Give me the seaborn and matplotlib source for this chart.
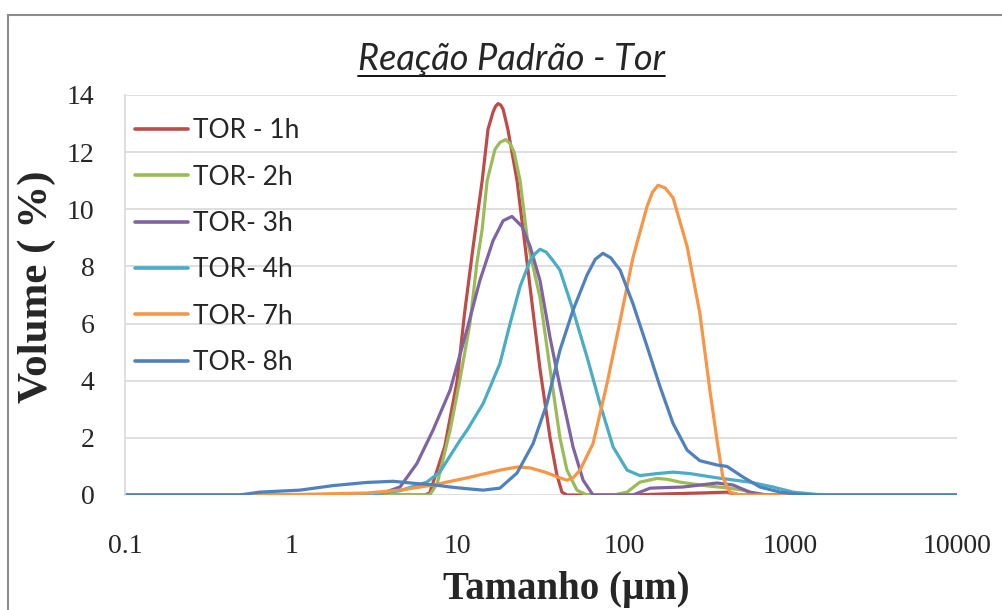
import numpy as np
import pandas as pd
import matplotlib
matplotlib.use("Agg")
import matplotlib.pyplot as plt
import seaborn as sns
from matplotlib.lines import Line2D
from matplotlib.patches import Rectangle

# particle size (um) and volume (%), one pair per run
size_1h = [0.1, 6.32, 6.78, 8.35, 9.91, 11.00, 12.37, 14.01, 15.19, 16.28, 16.85, 17.46, 18.1,
           18.73, 19.99, 22.70, 25.39, 28.35, 31.21, 35.85, 39.41, 42.26, 45.29, 112.8,
           181.2, 284.9, 415.0, 497.0, 10000]
vol_1h = [0, 0, 0.07, 1.7, 4.0, 6.4, 8.7, 11.0, 12.8, 13.4, 13.6, 13.7, 13.65,
          13.5, 12.8, 11.0, 8.7, 6.4, 4.4, 2.0, 0.7, 0.1, 0, 0,
          0.04, 0.07, 0.1, 0, 0]

size_2h = [0.1, 6.78, 7.52, 8.99, 10.27, 11.83, 13.01, 14.01, 15.01, 16.73, 18.0, 19.45, 20.6,
           21.79, 23.68, 26.38, 31.21, 35.85, 41.11, 45.29, 52.00, 59.79, 85.81, 104.1,
           124.1, 157.9, 181.2, 216.5, 314.0, 415.0, 517.2, 654.3, 10000]
vol_2h = [0, 0, 0.4, 2.27, 4.0, 6.0, 8.1, 9.3, 11.0, 12.1, 12.35, 12.44, 12.3,
          12.0, 11.0, 8.8, 6.9, 4.4, 2.0, 0.87, 0.17, 0, 0, 0.1,
          0.45, 0.58, 0.55, 0.45, 0.32, 0.25, 0.17, 0, 0]

size_3h = [0.1, 2.849, 3.551, 4.495, 5.675, 7.099, 8.990, 11.37, 13.56, 16.28, 18.73, 21.16,
           24.30, 27.19, 31.21, 35.85, 41.11, 49.27, 56.62, 64.96, 112.8, 143.2, 225.9,
           361.6, 450.6, 569.4, 721.4, 10000]
vol_3h = [0, 0, 0.07, 0.28, 1.1, 2.27, 3.67, 5.8, 7.5, 8.9, 9.6, 9.75,
          9.4, 8.7, 7.5, 5.5, 3.8, 1.68, 0.52, 0, 0, 0.24, 0.28,
          0.42, 0.35, 0.1, 0, 0]

size_4h = [0.1, 2.849, 4.495, 6.507, 7.797, 10.27, 11.37, 14.20, 17.91, 20.62, 23.68, 27.19,
           29.2, 31.21, 34.0, 37.36, 41.11, 49.27, 59.79, 71.49, 85.81, 104.1, 124.1, 157.9,
           196.7, 248.2, 361.6, 569.4, 783.3, 1034, 1440, 2277, 10000]
vol_4h = [0, 0, 0.15, 0.45, 0.8, 1.9, 2.27, 3.2, 4.6, 6.0, 7.3, 8.2,
          8.45, 8.6, 8.5, 8.2, 7.87, 6.47, 4.83, 3.2, 1.68, 0.87, 0.68, 0.75,
          0.8, 0.75, 0.6, 0.45, 0.28, 0.1, 0.02, 0, 0]

size_7h = [0.1, 0.517, 1.125, 2.849, 4.495, 7.099, 11.37, 17.91, 22.70, 27.19, 33.45, 41.11,
           45.29, 49.27, 54.23, 64.96, 78.86, 94.52, 112.8, 137.2, 148, 159.7, 176, 196.7,
           238.8, 284.9, 328.5, 361.6, 392.1, 431.9, 497.0, 10000]
vol_7h = [0, 0, 0.02, 0.07, 0.17, 0.35, 0.6, 0.87, 0.98, 0.95, 0.8, 0.6,
          0.52, 0.6, 0.87, 1.8, 3.9, 6.1, 8.3, 10.1, 10.6, 10.84, 10.75, 10.4,
          8.7, 6.36, 3.6, 1.9, 0.6, 0.1, 0, 0]

size_8h = [0.1, 0.488, 0.643, 1.125, 1.782, 2.849, 4.085, 5.675, 7.099, 8.990, 11.37, 14.20,
           17.91, 22.70, 28.35, 34.34, 41.11, 49.27, 59.79, 67, 74.55, 83, 94.52, 112.8,
           137.2, 164.0, 196.7, 238.8, 284.9, 361.6, 415.0, 517.2, 654.3, 863.7, 1139,
           1515, 10000]
vol_8h = [0, 0, 0.1, 0.17, 0.33, 0.44, 0.48, 0.4, 0.36, 0.28, 0.22, 0.17,
          0.24, 0.77, 1.8, 3.2, 5.07, 6.47, 7.7, 8.25, 8.46, 8.3, 7.87, 6.7,
          5.2, 3.8, 2.5, 1.57, 1.2, 1.05, 1.0, 0.63, 0.28, 0.1, 0.02,
          0, 0]

labels = ["TOR - 1h", "TOR- 2h", "TOR- 3h", "TOR- 4h", "TOR- 7h", "TOR- 8h"]
colors = ["#BE4B48", "#9BBB59", "#8064A2", "#4BACC6", "#F79646", "#4F81BD"]
x_ticks = [0.1, 1, 10, 100, 1000, 10000]
x_tick_labels = ["0.1", "1", "10", "100", "1000", "10000"]
y_ticks = [0, 2, 4, 6, 8, 10, 12, 14]

sizes = [size_1h, size_2h, size_3h, size_4h, size_7h, size_8h]
vols = [vol_1h, vol_2h, vol_3h, vol_4h, vol_7h, vol_8h]
df = pd.concat(
    [pd.DataFrame({"size": s, "vol": v, "run": lab}) for s, v, lab in zip(sizes, vols, labels)],
    ignore_index=True,
)

sns.set_theme(style="white")
plt.rcParams["font.family"] = ["Liberation Serif", "DejaVu Serif"]

fig = plt.figure(figsize=(10.03, 6.10), dpi=100)
ax = fig.add_axes([125 / 1003, 1 - 495 / 610, 832 / 1003, 400 / 610])

sns.lineplot(
    data=df, x="size", y="vol", hue="run", hue_order=labels,
    palette=dict(zip(labels, colors)), linewidth=2.3, errorbar=None, ax=ax,
    solid_joinstyle="round",
)

ax.set_xscale("log")
ax.set_xlim(0.1, 10000)
ax.set_ylim(0, 14)
ax.set_xticks(x_ticks)
ax.set_xticklabels(x_tick_labels)
ax.set_yticks(y_ticks)
ax.minorticks_off()
ax.tick_params(axis="x", labelsize=20, pad=28, length=0)
ax.tick_params(axis="y", labelsize=20, pad=22, length=0)
ax.set_xlabel("")
ax.set_ylabel("")

# light horizontal gridlines only, like the Excel original
ax.yaxis.grid(True, color="#D9D9D9", linewidth=1.2)
ax.xaxis.grid(False)
ax.set_axisbelow(True)
for side in ["top", "right", "bottom"]:
    ax.spines[side].set_visible(False)
ax.spines["left"].set_color("#D9D9D9")
ax.spines["left"].set_linewidth(1.2)

# legend
handles = [Line2D([], [], color=c, linewidth=2.6) for c in colors]
ax.legend(
    handles, labels, loc="upper left", bbox_to_anchor=(-0.004, 0.975),
    frameon=False, prop={"family": "Lato", "size": 19},
    handlelength=2.0, handletextpad=0.2, labelspacing=0.81, borderpad=0,
)

# axis titles
fig.text(566 / 1003, 1 - 590 / 610, "Tamanho (µm)", ha="center", va="center",
         fontsize=28, fontweight="bold")
fig.text(37 / 1003, 1 - 287 / 610, "Volume ( %)", ha="center", va="center",
         rotation=90, fontsize=31, fontweight="bold")

# underlined italic title
title = fig.text(512 / 1003, 1 - 60 / 610, "Reação Padrão - Tor", ha="center",
                 va="center", fontsize=26, style="italic", family="Lato")
fig.canvas.draw()
bb = title.get_window_extent()
fig.add_artist(Line2D([bb.x0 / fig.bbox.width, bb.x1 / fig.bbox.width],
                      [1 - 76 / 610, 1 - 76 / 610], color="black", linewidth=1.3,
                      transform=fig.transFigure))

# chart-area border cut off by the crop
fig.add_artist(Rectangle((8 / 1003, -0.2), 1.2, 1.2 - 15 / 610, transform=fig.transFigure,
                         fill=False, edgecolor="#8C8C8C", linewidth=1.5))

fig.savefig("out.png", dpi=100)
plt.close(fig)
